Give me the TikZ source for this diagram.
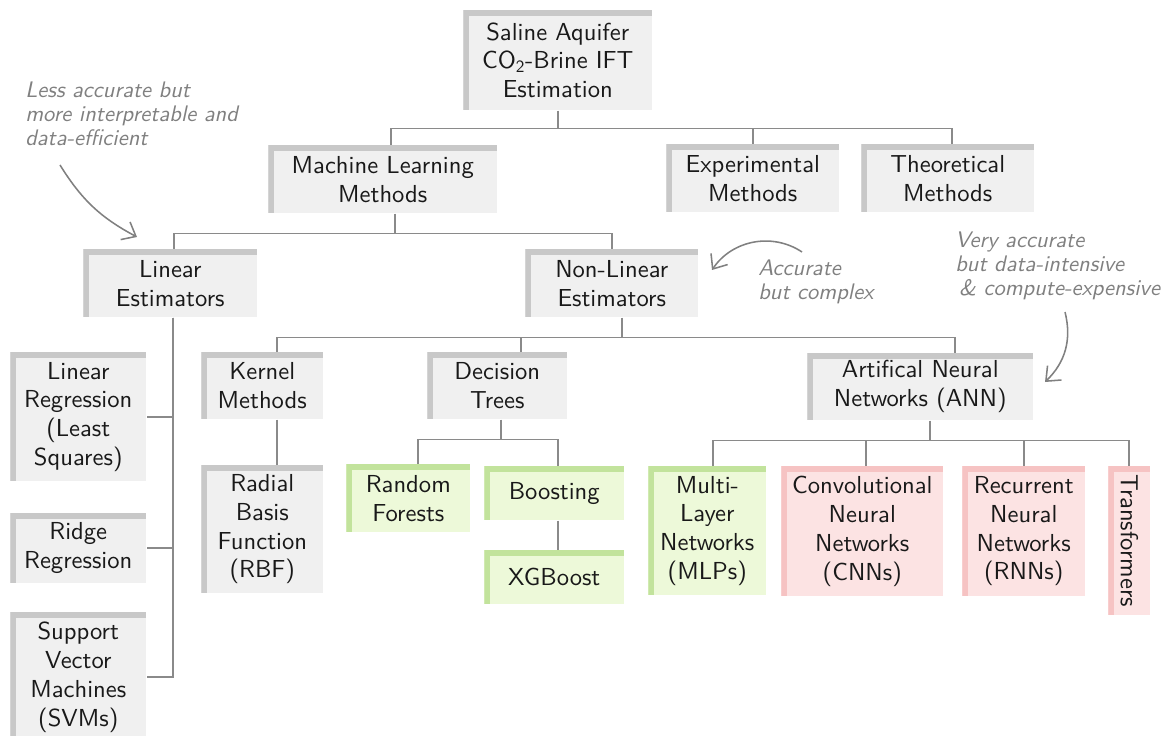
\documentclass[tikz,border=0pt]{standalone}
\usepackage{graphicx}
\usepackage{fontspec}
\newfontfamily\boxfont{lmsans10-regular.otf}[ItalicFont=lmsans10-oblique.otf]
\usepackage{tikz}
\usetikzlibrary{calc,arrows.meta,positioning}
\usepackage{xcolor}
\definecolor{boxfill}{HTML}{F0F0F0}
\definecolor{boxedge}{HTML}{C8C8C8}
\definecolor{greenfill}{HTML}{EDF9D9}
\definecolor{greenedge}{HTML}{C2E39C}
\definecolor{pinkfill}{HTML}{FCE3E3}
\definecolor{pinkedge}{HTML}{F6C3C3}
\definecolor{linegray}{HTML}{8A8A8A}
\definecolor{notegray}{HTML}{808080}

\begin{document}
\begin{tikzpicture}[
  band/.style={
    path picture={
      \draw[line width=.3cm, #1] (path picture bounding box.south west)
        -- (path picture bounding box.north west)
        -- (path picture bounding box.north east);
    }
  },
  methodnode/.style={
    rectangle,
    fill=boxfill,
    band=boxedge,
    align=center,
    inner sep=2pt,
    text=black!90,
    font=\boxfont\fontsize{17.5}{20.5}\selectfont
  },
  goodnode/.style={
    methodnode,
    fill=greenfill,
    band=greenedge
  },
  costlynode/.style={
    methodnode,
    fill=pinkfill,
    band=pinkedge
  },
  conn/.style={
    line width=1.2pt,
    linegray
  },
  note/.style={
    align=left,
    inner sep=0pt,
    text=notegray,
    font=\boxfont\itshape\fontsize{16}{17}\selectfont
  },
  notearrow/.style={
    line width=1.1pt,
    notegray,
    -{Straight Barb[length=3mm, width=5mm]}
  }
  ]
  \useasboundingbox (0,0) rectangle (29.075,-18.4);

  % top levels
  \node[anchor=north west, methodnode, minimum width=4.725cm, minimum height=2.5cm] (root) at (11.575,-.25) {Saline Aquifer\\CO\textsubscript{2}-Brine IFT\\Estimation};

  \node[anchor=north west, methodnode, minimum width=5.725cm, minimum height=1.7cm] (ml) at (6.7,-3.625) {Machine Learning\\Methods};
  \node[anchor=north west, methodnode, minimum width=4.325cm, minimum height=1.7cm] (exp) at (16.65,-3.6) {Experimental\\Methods};
  \node[anchor=north west, methodnode, minimum width=4.325cm, minimum height=1.7cm] (theo) at (21.525,-3.6) {Theoretical\\Methods};

  \node[anchor=north west, methodnode, minimum width=4.35cm, minimum height=1.7cm] (lin) at (2.075,-6.225) {Linear\\Estimators};
  \node[anchor=north west, methodnode, minimum width=4.325cm, minimum height=1.7cm] (nonlin) at (13.125,-6.225) {Non-Linear\\Estimators};

  % linear estimators
  \begin{scope}
    \node[anchor=north west, methodnode, minimum width=3.4cm, minimum height=3.225cm] (linreg) at (.25,-8.8) {Linear\\Regression\\(Least\\Squares)};
    \node[anchor=north west, methodnode, minimum width=3.4cm, minimum height=1.75cm] (ridge) at (.25,-12.825) {Ridge\\Regression};
    \node[anchor=north west, methodnode, minimum width=3.4cm, minimum height=3.25cm] (svm) at (.25,-15.3) {Support\\Vector\\Machines\\(SVMs)};
  \end{scope}

  % non-linear estimators
  \begin{scope}
    \node[anchor=north west, methodnode, minimum width=3.05cm, minimum height=1.675cm] (kernel) at (5.025,-8.8) {Kernel\\Methods};
    \node[anchor=north west, methodnode, minimum width=3.5cm, minimum height=1.675cm] (dtree) at (10.675,-8.8) {Decision\\Trees};
    \node[anchor=north west, methodnode, minimum width=5.65cm, minimum height=1.675cm] (ann) at (20.175,-8.825) {Artifical Neural\\Networks (ANN)};

    \node[anchor=north west, methodnode, minimum width=3.05cm, minimum height=3.2cm] (rbf) at (5.025,-11.625) {Radial\\Basis\\Function\\(RBF)};

    \node[anchor=north west, goodnode, minimum width=3.1cm, minimum height=1.7cm] (rf) at (8.65,-11.6) {Random\\Forests};
    \node[anchor=north west, goodnode, minimum width=3.5cm, minimum height=1.35cm] (boost) at (12.1,-11.65) {Boosting};
    \node[anchor=north west, goodnode, minimum width=3.5cm, minimum height=1.35cm] (xgb) at (12.1,-13.75) {XGBoost};

    \node[anchor=north west, goodnode, minimum width=2.95cm, minimum height=3.225cm] (mlp) at (16.2,-11.65) {Multi-\\Layer\\Networks\\(MLPs)};
    \node[anchor=north west, costlynode, minimum width=4.05cm, minimum height=3.25cm] (cnn) at (19.525,-11.65) {Convolutional\\Neural\\Networks\\(CNNs)};
    \node[anchor=north west, costlynode, minimum width=3.075cm, minimum height=3.25cm] (rnn) at (24.05,-11.65) {Recurrent\\Neural\\Networks\\(RNNs)};
    \node[anchor=north west, costlynode, minimum width=1.05cm, minimum height=3.725cm, inner sep=0pt] (trans) at (27.7,-11.65) {\rotatebox{-90}{Transformers}};
  \end{scope}

  % tree connectors
  \coordinate (root-split) at ($(root.south)+(0,-.45)$);
  \draw[conn] (root.south) -- (root-split);
  \draw[conn] (root-split) -| ([xshift=.2cm]ml.north);
  \draw[conn] (root-split) -| (exp.north);
  \draw[conn] (root-split) -| ([xshift=.1cm]theo.north);

  \coordinate (ml-split) at ($([xshift=.3cm]ml.south)+(0,-.5)$);
  \draw[conn] ([xshift=.3cm]ml.south) -- (ml-split);
  \draw[conn] (ml-split) -| ([xshift=.1cm]lin.north);
  \draw[conn] (ml-split) -| (nonlin.north);

  \coordinate (lin-trunk) at ([xshift=.075cm]lin.south);
  \draw[conn] (lin-trunk) |- (svm.east);
  \draw[conn] (lin-trunk) |- (linreg.east);
  \draw[conn] (lin-trunk) |- (ridge.east);

  \coordinate (nonlin-split) at ($([xshift=.25cm]nonlin.south)+(0,-.5)$);
  \draw[conn] ([xshift=.25cm]nonlin.south) -- (nonlin-split);
  \draw[conn] (nonlin-split) -| ([xshift=.375cm]kernel.north);
  \draw[conn] (nonlin-split) -| ([xshift=.6cm]dtree.north);
  \draw[conn] (nonlin-split) -| ([xshift=.875cm]ann.north);

  \draw[conn] ([xshift=.375cm]kernel.south) -- ([xshift=.375cm]rbf.north);

  \coordinate (dtree-split) at ($([xshift=.1cm]dtree.south)+(0,-.5)$);
  \draw[conn] ([xshift=.1cm]dtree.south) -- (dtree-split);
  \draw[conn] (dtree-split) -| ([xshift=.25cm]rf.north);
  \draw[conn] (dtree-split) -| ([xshift=.1cm]boost.north);
  \draw[conn] ([xshift=.1cm]boost.south) -- ([xshift=.1cm]xgb.north);

  \coordinate (ann-split) at ($([xshift=.25cm]ann.south)+(0,-.5)$);
  \draw[conn] ([xshift=.25cm]ann.south) -- (ann-split);
  \draw[conn] (ann-split) -| ([xshift=.15cm]mlp.north);
  \draw[conn] (ann-split) -| ([xshift=.1cm]cnn.north);
  \draw[conn] (ann-split) -| (rnn.north);
  \draw[conn] (ann-split) -| (trans.north);

  % notes
  \node[anchor=north west, note] (note-lin) at (.625,-2.05) {Less accurate but\\more interpretable and\\data-efficient};
  \node[anchor=north west, note] (note-nonlin) at (18.95,-6.5) {Accurate\\but complex};
  \node[anchor=north west, note] (note-ann) at (23.875,-5.8) {Very accurate\\but data-intensive\\\,\& compute-expensive};

  \coordinate (lin-tail) at (1.5,-4.125);
  \coordinate (lin-tip) at (3.425,-5.925);
  \draw[notearrow] (lin-tail) to[bend right=15] (lin-tip);

  \coordinate (nonlin-tail) at (20.05,-6.3);
  \coordinate (nonlin-tip) at (17.8,-6.75);
  \draw[notearrow] (nonlin-tail) to[bend right=45] (nonlin-tip);

  \coordinate (ann-tail) at (26.625,-7.8);
  \coordinate (ann-tip) at (26.125,-9.55);
  \draw[notearrow] (ann-tail) to[bend left=30] (ann-tip);

\end{tikzpicture}
\end{document}
